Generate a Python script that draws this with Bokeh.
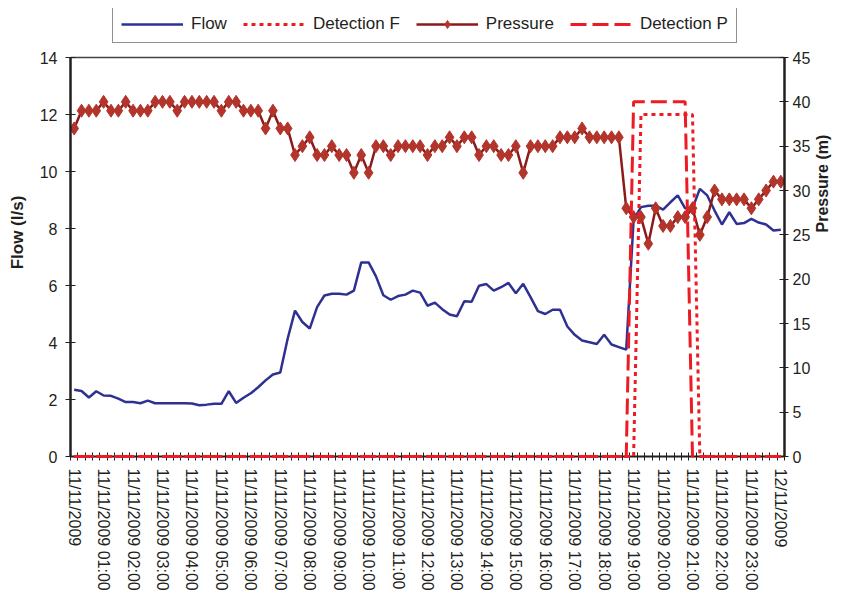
import math
from bokeh.plotting import figure
from bokeh.models import Range1d, LinearAxis, FixedTicker, Legend, LegendItem
from bokeh.embed import file_html
from bokeh.resources import INLINE

# ---- data (15-minute samples, 11/11/2009 00:00 -> 12/11/2009 00:00) ----
hour_labels = ["11/11/2009", "11/11/2009 01:00", "11/11/2009 02:00", "11/11/2009 03:00",
               "11/11/2009 04:00", "11/11/2009 05:00", "11/11/2009 06:00", "11/11/2009 07:00",
               "11/11/2009 08:00", "11/11/2009 09:00", "11/11/2009 10:00", "11/11/2009 11:00",
               "11/11/2009 12:00", "11/11/2009 13:00", "11/11/2009 14:00", "11/11/2009 15:00",
               "11/11/2009 16:00", "11/11/2009 17:00", "11/11/2009 18:00", "11/11/2009 19:00",
               "11/11/2009 20:00", "11/11/2009 21:00", "11/11/2009 22:00", "11/11/2009 23:00",
               "12/11/2009"]

flow = [2.34, 2.30, 2.07, 2.29, 2.14, 2.13, 2.03, 1.91, 1.91, 1.87, 1.96, 1.87, 1.87, 1.87, 1.87, 1.87,
        1.86, 1.80, 1.82, 1.85, 1.85, 2.29, 1.88, 2.06, 2.22, 2.43, 2.67, 2.88, 2.95, 4.13, 5.12, 4.72,
        4.49, 5.24, 5.65, 5.71, 5.71, 5.68, 5.82, 6.81, 6.81, 6.32, 5.66, 5.50, 5.63, 5.68, 5.82, 5.75,
        5.29, 5.40, 5.17, 4.98, 4.92, 5.45, 5.43, 5.99, 6.05, 5.82, 5.94, 6.09, 5.73, 6.06, 5.59, 5.10,
        5.00, 5.15, 5.15, 4.56, 4.27, 4.07, 4.01, 3.95, 4.27, 3.93, 3.84, 3.75, 8.30, 8.75, 8.80, 8.80,
        8.66, 8.92, 9.16, 8.71, 8.71, 9.39, 9.16, 8.63, 8.14, 8.57, 8.16, 8.19, 8.34, 8.21, 8.14, 7.93,
        7.96]

pressure = [37, 39, 39, 39, 40, 39, 39, 40, 39, 39, 39, 40, 40, 40, 39, 40,
            40, 40, 40, 40, 39, 40, 40, 39, 39, 39, 37, 39, 37, 37, 34, 35,
            36, 34, 34, 35, 34, 34, 32, 34, 32, 35, 35, 34, 35, 35, 35, 35,
            34, 35, 35, 36, 35, 36, 36, 34, 35, 35, 34, 34, 35, 32, 35, 35,
            35, 35, 36, 36, 36, 37, 36, 36, 36, 36, 36, 28, 27, 27, 24, 28,
            26, 26, 27, 27, 28, 25, 27, 30, 29, 29, 29, 29, 28, 29, 30, 31,
            31]

detection_f = [0, 0, 0, 0, 0, 0, 0, 0, 0, 0, 0, 0, 0, 0, 0, 0,
               0, 0, 0, 0, 0, 0, 0, 0, 0, 0, 0, 0, 0, 0, 0, 0,
               0, 0, 0, 0, 0, 0, 0, 0, 0, 0, 0, 0, 0, 0, 0, 0,
               0, 0, 0, 0, 0, 0, 0, 0, 0, 0, 0, 0, 0, 0, 0, 0,
               0, 0, 0, 0, 0, 0, 0, 0, 0, 0, 0, 0, 0, 12, 12, 12,
               12, 12, 12, 12, 12, 0, 0, 0, 0, 0, 0, 0, 0, 0, 0, 0,
               0]

detection_p = [0, 0, 0, 0, 0, 0, 0, 0, 0, 0, 0, 0, 0, 0, 0, 0,
               0, 0, 0, 0, 0, 0, 0, 0, 0, 0, 0, 0, 0, 0, 0, 0,
               0, 0, 0, 0, 0, 0, 0, 0, 0, 0, 0, 0, 0, 0, 0, 0,
               0, 0, 0, 0, 0, 0, 0, 0, 0, 0, 0, 0, 0, 0, 0, 0,
               0, 0, 0, 0, 0, 0, 0, 0, 0, 0, 0, 0, 40, 40, 40, 40,
               40, 40, 40, 40, 0, 0, 0, 0, 0, 0, 0, 0, 0, 0, 0, 0,
               0]

flow_ticks = [0, 2, 4, 6, 8, 10, 12, 14]
pressure_ticks = [0, 5, 10, 15, 20, 25, 30, 35, 40, 45]
FLOW_MAX = 14
PRESS_MAX = 45

n = len(flow)
x = list(range(n))
SAMPLES_PER_HOUR = 4

FONT = "Liberation Sans"
TXT = "#231f20"
BLUE = "#2e3192"
DKRED = "#8b1a1a"
MRKRED = "#b3342b"
RED = "#ed1c24"

W, H = 842, 604
PLOT_L, PLOT_R, PLOT_T, PLOT_B = 70, 784, 57, 456   # visible plot box (px)
FRAME_T = 8                                           # frame extends up to hold the legend
BL, BR, BT, BB = PLOT_L, W - PLOT_R, FRAME_T, H - PLOT_B

scale = (PLOT_B - FRAME_T) / (PLOT_B - PLOT_T)
p = figure(width=W, height=H, output_backend="svg", toolbar_location=None,
           x_range=Range1d(-0.5, n - 0.5), y_range=Range1d(0, FLOW_MAX * scale),
           min_border_left=BL, min_border_right=BR, min_border_top=BT, min_border_bottom=BB)
p.extra_y_ranges = {"press": Range1d(0, PRESS_MAX * scale)}
p.grid.visible = False
p.outline_line_color = None
p.background_fill_color = "white"
p.border_fill_color = "white"

# x axis
xa = p.xaxis[0]
major = list(range(0, n, SAMPLES_PER_HOUR))
xa.ticker = FixedTicker(ticks=major, minor_ticks=[i - 0.5 for i in range(n + 1)])
xa.major_label_overrides = {t: hour_labels[k] for k, t in enumerate(major)}
xa.major_label_orientation = "vertical"
xa.major_tick_in = 0
xa.major_tick_out = 0
xa.minor_tick_in = 4
xa.minor_tick_out = 4
xa.minor_tick_line_color = TXT
xa.minor_tick_line_width = 1
xa.axis_line_color = TXT
xa.axis_line_width = 2
xa.major_label_text_font = FONT
xa.major_label_text_font_size = "16px"
xa.major_label_text_color = TXT
xa.major_label_standoff = 8

# left axis
ya = p.yaxis[0]
ya.ticker = FixedTicker(ticks=flow_ticks)
ya.bounds = (0, FLOW_MAX)
ya.axis_label = "Flow (l/s)"
ya.axis_label_text_font = FONT
ya.axis_label_text_font_style = "bold"
ya.axis_label_text_font_size = "17px"
ya.axis_label_text_color = TXT
ya.axis_label_standoff = 10
ya.major_tick_in = 5
ya.major_tick_out = 5
ya.minor_tick_in = 0
ya.minor_tick_out = 0
ya.major_tick_line_color = TXT
ya.axis_line_color = TXT
ya.axis_line_width = 2.5
ya.major_label_text_font = FONT
ya.major_label_text_font_size = "16px"
ya.major_label_text_color = TXT
ya.major_label_standoff = 8

# right axis
ra = LinearAxis(y_range_name="press", ticker=FixedTicker(ticks=pressure_ticks))
ra.bounds = (0, PRESS_MAX)
ra.axis_label = "Pressure (m)"
ra.axis_label_orientation = math.pi / 2
ra.axis_label_text_font = FONT
ra.axis_label_text_font_style = "bold"
ra.axis_label_text_font_size = "16px"
ra.axis_label_text_color = TXT
ra.axis_label_standoff = 9
ra.major_tick_in = 5
ra.major_tick_out = 4
ra.minor_tick_in = 0
ra.minor_tick_out = 0
ra.major_tick_line_color = TXT
ra.axis_line_color = TXT
ra.axis_line_width = 2.5
ra.major_label_text_font = FONT
ra.major_label_text_font_size = "16px"
ra.major_label_text_color = TXT
ra.major_label_standoff = 4
p.add_layout(ra, "right")

# top border of the plot box
p.segment(x0=[-0.5], y0=[FLOW_MAX], x1=[n - 0.5], y1=[FLOW_MAX],
          line_color="#444444", line_width=1.5)

# series
r_flow = p.line(x, flow, line_color=BLUE, line_width=2.5)
r_df = p.line(x, detection_f, line_color=RED, line_width=3, line_dash="4 4",
              level="overlay")
r_pl = p.line(x, pressure, line_color=DKRED, line_width=2.5, y_range_name="press")
r_pm = p.scatter(x, pressure, marker="diamond", size=13, fill_color=MRKRED,
                 line_color=MRKRED, y_range_name="press")
r_dp = p.line(x, detection_p, line_color=RED, line_width=3, line_dash="16 6",
              y_range_name="press", level="overlay")

legend = Legend(items=[LegendItem(label="Flow", renderers=[r_flow]),
                       LegendItem(label="Detection F", renderers=[r_df]),
                       LegendItem(label="Pressure", renderers=[r_pl, r_pm]),
                       LegendItem(label="Detection P", renderers=[r_dp])],
                orientation="horizontal", location=(112 - PLOT_L, PLOT_B - 43),
                label_text_font=FONT, label_text_font_size="17px", label_text_color=TXT,
                glyph_width=62, glyph_height=20, label_standoff=8, spacing=16,
                padding=8, margin=0, border_line_color="#222222", border_line_width=1,
                background_fill_alpha=1)
p.add_layout(legend, "center")

open("out.html", "w").write(file_html(p, INLINE))
